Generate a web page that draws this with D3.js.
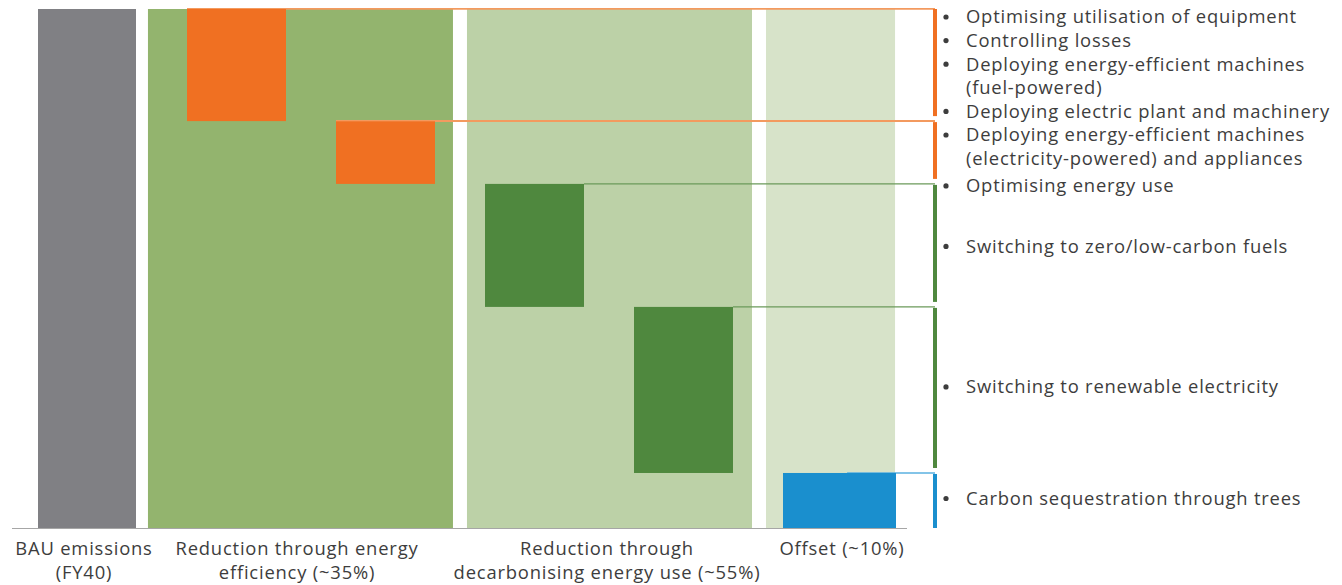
<!DOCTYPE html>
<html><head><meta charset="utf-8">
<script src="https://cdn.jsdelivr.net/npm/d3@7/dist/d3.min.js"></script>
<style>
html,body{margin:0;padding:0;background:#fff;}
svg{display:block;font-family:"Open Sans",sans-serif;}
</style></head>
<body><svg id="chart" width="1342" height="585"></svg>
<script>
// ---- data ----
const categories = [["BAU emissions","(FY40)"],["Reduction through energy","efficiency (~35%)"],["Reduction through","decarbonising energy use (~55%)"],["Offset (~10%)"]];
const stepNames = ["Energy efficiency A","Energy efficiency B","Decarbonisation A","Decarbonisation B","Offset"];
const stepValues = [21.6, 12.1, 23.7, 32.0, 10.6];   // % of BAU
const stepGroup = [1, 1, 2, 2, 3];
const bauValue = 100;
const groupShares = [0, 35, 55, 10];
const legendItems = [
  {step:0, lines:["Optimising utilisation of equipment"]},
  {step:0, lines:["Controlling losses"]},
  {step:0, lines:["Deploying energy-efficient machines","(fuel-powered)"]},
  {step:0, lines:["Deploying electric plant and machinery"]},
  {step:1, lines:["Deploying energy-efficient machines","(electricity-powered) and appliances"]},
  {step:2, lines:["Optimising energy use"]},
  {step:2, lines:["Switching to zero/low-carbon fuels"], center:true},
  {step:3, lines:["Switching to renewable electricity"], center:true},
  {step:4, lines:["Carbon sequestration through trees"], center:true}
];

// ---- style ----
const stepColors = ["#f07022","#f07022","#4f883e","#4f883e","#1a8fce"];
const lineColors = ["#f39a5f","#f39a5f","#6b9a5a","#6b9a5a","#5ab0e0"];
const bandColors = ["#808084","#93b46e","#bcd1a7","#d7e3c9"];
const textColor = "#3d3d3d";
const fontSize = 18.4, letterSp = 0.8;

const svg = d3.select("#chart");
const y = d3.scaleLinear().domain([0, bauValue]).range([528, 9]);
const x = d3.scaleLinear().domain([0, 6]).range([38, 38 + 149*6]);
const barW = 99;

// slots: BAU at 0, steps at 1..5
const bandSpans = [[0, 98/149], [0.738, 2.785], [2.879, 4.792], [4.886, 5.752]];
svg.selectAll("rect.band").data(bandSpans).join("rect")
  .attr("x", d => x(d[0])).attr("width", d => x(d[1]) - x(d[0]))
  .attr("y", y(bauValue)).attr("height", y(0) - y(bauValue))
  .attr("fill", (d,i) => bandColors[i]);

// waterfall steps
let cum = bauValue;
const steps = stepValues.map((v,i) => { const top = cum; cum -= v; return {i, top, bottom: cum, v}; });
steps[4].bottom = 0;

const bracketX = 935;
// connector lines
svg.selectAll("line.conn").data(steps).join("line")
  .attr("x1", d => d.i === 4 ? x(5.43) : x(d.i+1) + barW*(d.i<2?0:1))
  .attr("x2", bracketX)
  .attr("y1", d => y(d.top)).attr("y2", d => y(d.top))
  .attr("stroke", d => lineColors[d.i]).attr("stroke-width", d => d.i<2 ? 1.6 : 1.3);

svg.selectAll("rect.step").data(steps).join("rect")
  .attr("x", d => x(d.i+1)).attr("width", d => d.i === 4 ? 113 : barW)
  .attr("y", d => y(d.top)).attr("height", d => y(d.bottom) - y(d.top))
  .attr("fill", d => stepColors[d.i]);

svg.selectAll("line.conn2").data(steps.filter(d=>d.i<2)).join("line")
  .attr("x1", d => x(d.i+1)).attr("x2", bracketX)
  .attr("y1", d => y(d.top)-0.5).attr("y2", d => y(d.top)-0.5)
  .attr("stroke", d => lineColors[d.i]).attr("stroke-width", 1.2);

// brackets
svg.selectAll("rect.bracket").data(steps).join("rect")
  .attr("x", bracketX - 2).attr("width", 4)
  .attr("y", d => y(d.top) + (d.i===0?0:1))
  .attr("height", d => (y(d.bottom) - (d.i===4?0:5)) - (y(d.top) + (d.i===0?0:1)))
  .attr("fill", d => stepColors[d.i]);

// baseline
svg.append("line").attr("x1", 12).attr("x2", 907).attr("y1", 528.5).attr("y2", 528.5)
  .attr("stroke", "#a6a6a6").attr("stroke-width", 1.2);

// category labels
const catCenters = [84, 297, 607, 842];
categories.forEach((c, i) => {
  const t = svg.append("text").attr("text-anchor","middle").attr("fill",textColor)
    .attr("font-size", fontSize).attr("letter-spacing", letterSp);
  c.forEach((line, j) => t.append("tspan").attr("x", catCenters[i]).attr("y", 555 + j*24).text(line));
});

// legend
const lineH = 23.6;
let flowY = 17;
const centerAdj = [0, 0, 1, -3, -2];
legendItems.forEach(item => {
  const s = steps[item.step];
  let cy;
  if (item.center) {
    const b0 = y(s.top), b1 = y(s.bottom);
    cy = (b0 + b1)/2 + centerAdj[item.step] - (item.lines.length-1)*lineH/2;
  } else {
    cy = Math.max(flowY, y(s.top) + 2);
  }
  svg.append("circle").attr("cx", 946).attr("cy", cy).attr("r", 2.6).attr("fill", textColor);
  const t = svg.append("text").attr("fill", textColor).attr("font-size", fontSize).attr("letter-spacing", letterSp);
  item.lines.forEach((ln, j) => t.append("tspan").attr("x", 966).attr("y", cy + j*lineH).attr("dy","0.35em").text(ln));
  flowY = cy + item.lines.length*lineH;
});
</script></body></html>
